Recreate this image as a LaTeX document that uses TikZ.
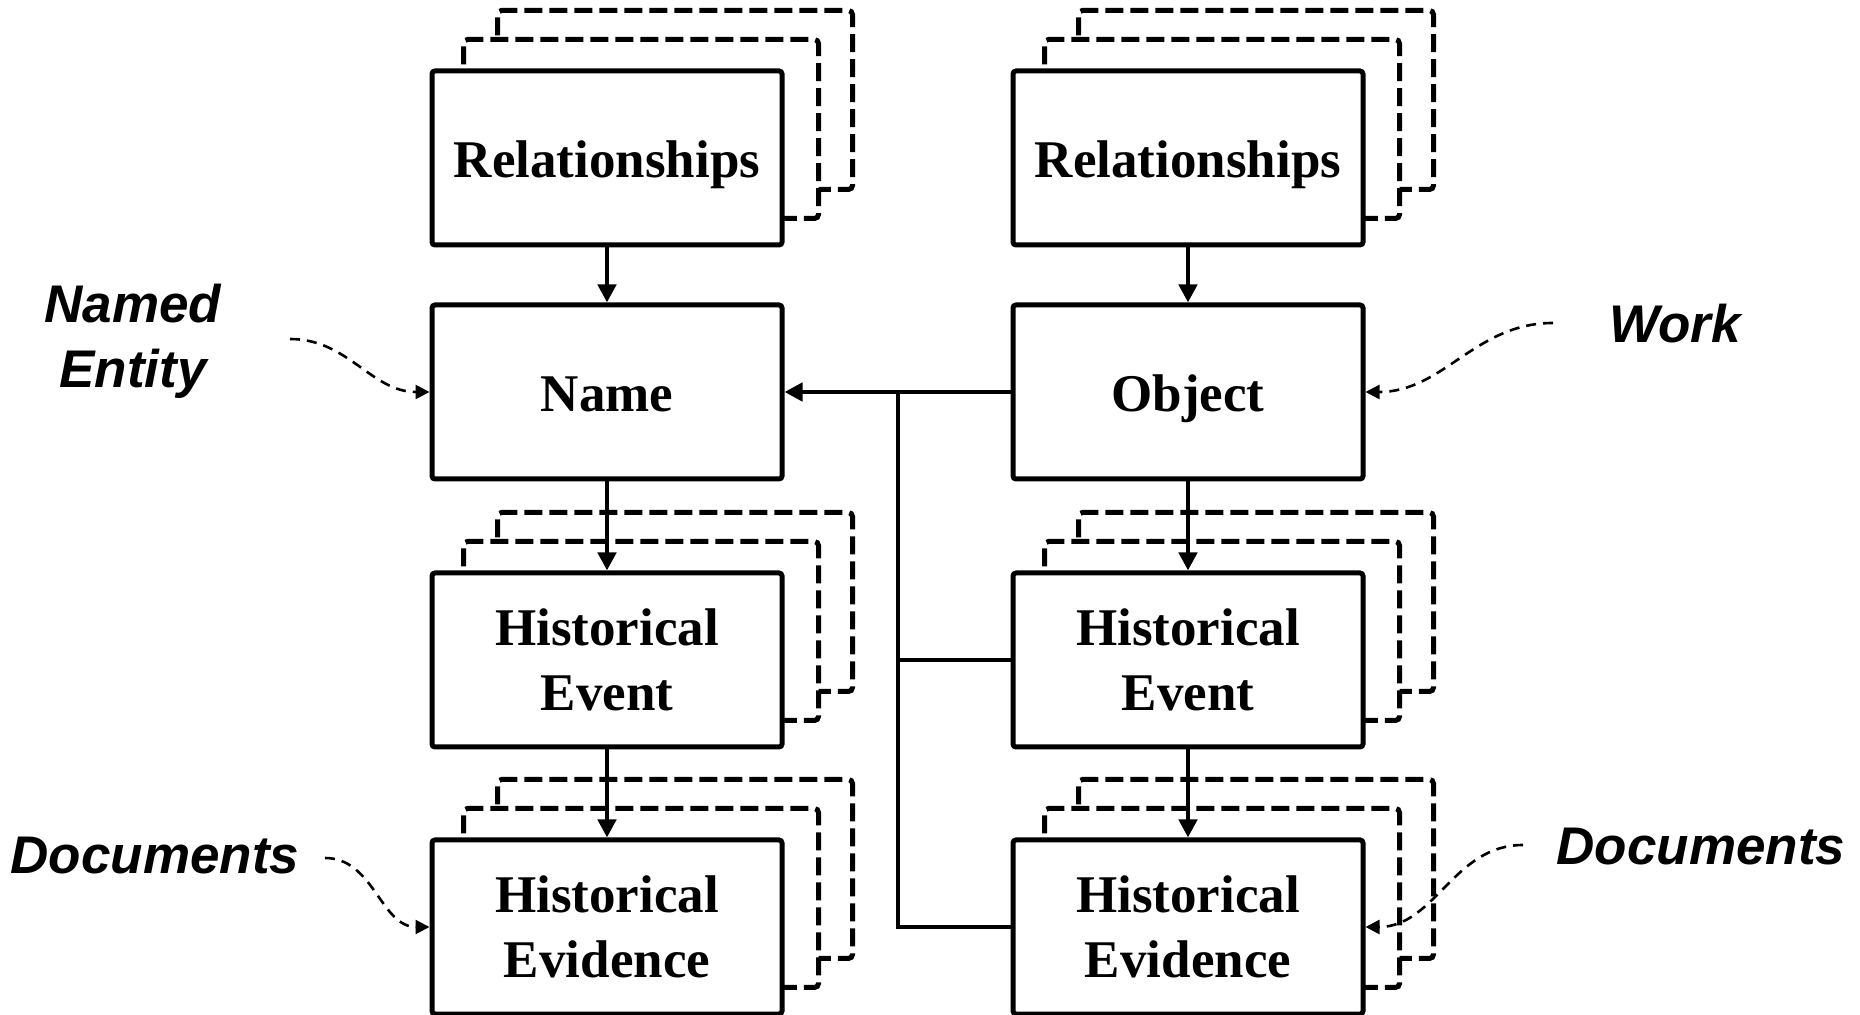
\documentclass[tikz,border=0pt]{standalone}
\usepackage{fontspec}
\setmainfont{Liberation Serif}
\newfontfamily\annotfont{Liberation Sans}
\usetikzlibrary{arrows.meta,backgrounds}

\tikzset{
  box/.style={draw, fill=white, line width=2.5pt, rounded corners=1.5pt,
    minimum width=175pt, minimum height=87pt, inner sep=0pt, align=center,
    font=\fontsize{26.5}{32.5}\selectfont\bfseries},
  oneline/.style={text height=20pt, text depth=0pt},
  copybox/.style={draw, fill=white, line width=2.5pt, rounded corners=2pt,
    dash pattern=on 9pt off 3.5pt},
  link/.style={line width=2.2pt, -{Triangle[length=9pt,width=9pt]}},
  bus/.style={line width=2.2pt},
  hint/.style={line width=1.3pt, dash pattern=on 5pt off 3.5pt,
    -{Triangle[length=7pt,width=7pt]}},
  annot/.style={font=\annotfont\fontsize{26.5}{32.5}\selectfont\bfseries\itshape,
    align=center},
}

\begin{document}
\begin{tikzpicture}[x=0.5pt,y=-0.5pt]
  \useasboundingbox (0,0) rectangle (1860,1015);

  % left column
  \node[box,oneline] (relL) at (607,158) {Relationships};
  \node[box,oneline] (name) at (607,392) {Name};
  \node[box] (eventL) at (607,660) {Historical\\Event};
  \node[box] (evidL) at (607,927) {Historical\\Evidence};

  % right column
  \node[box,oneline] (relR) at (1188,158) {Relationships};
  \node[box,oneline] (obj) at (1188,392) {Object};
  \node[box] (eventR) at (1188,660) {Historical\\Event};
  \node[box] (evidR) at (1188,927) {Historical\\Evidence};

  % stacked copies behind
  \begin{scope}[on background layer]
    \foreach \n in {relL,relR,eventL,eventR,evidL,evidR}{
      \draw[copybox] ([shift={(68,-58)}]\n.south west) rectangle ([shift={(68,-58)}]\n.north east);
      \draw[copybox] ([shift={(34,-29)}]\n.south west) rectangle ([shift={(34,-29)}]\n.north east);
    }
  \end{scope}

  % annotations
  \node[annot] (entityLbl) at (133,341) {Named\\Entity};
  \node[annot] (workLbl) at (1675,324) {Work};
  \node[annot] (docsL) at (155,856) {Documents};
  \node[annot] (docsR) at (1701,847) {Documents};

  \coordinate (entityEnd) at (290,339);
  \coordinate (workEnd) at (1553,323);
  \coordinate (docsLEnd) at (325,858);
  \coordinate (docsREnd) at (1523,845);
  \coordinate (fork) at (898,392);

  % vertical links
  \draw[link] (relL) -- (name);
  \draw[link] (name) -- (eventL);
  \draw[link] (eventL) -- (evidL);
  \draw[link] (relR) -- (obj);
  \draw[link] (obj) -- (eventR);
  \draw[link] (eventR) -- (evidR);

  % object to name, with bus
  \draw[link] (obj.west) -- (name.east);
  \draw[bus] (fork) |- (evidR.west);
  \draw[bus] (fork |- eventR.west) -- (eventR.west);

  % dashed hints
  \draw[hint] (entityEnd) to[out=0,in=180] (name.west);
  \draw[hint] (workEnd) to[out=180,in=0] (obj.east);
  \draw[hint] (docsLEnd) to[out=0,in=180] (evidL.west);
  \draw[hint] (docsREnd) to[out=180,in=0] (evidR.east);
\end{tikzpicture}
\end{document}
